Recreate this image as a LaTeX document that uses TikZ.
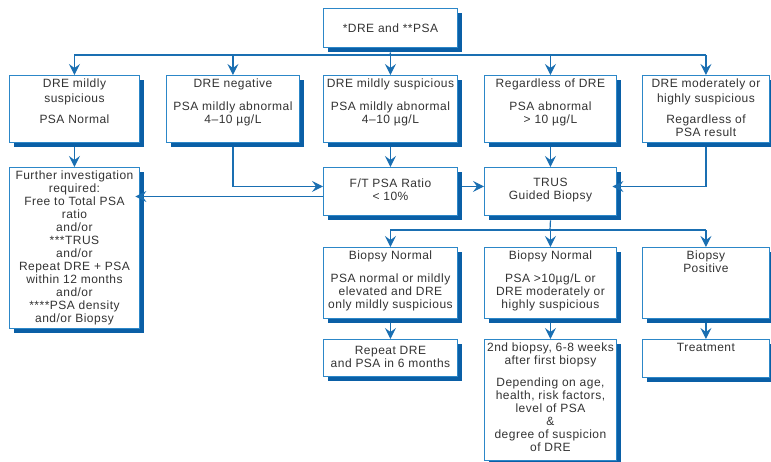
\documentclass[tikz,border=0pt]{standalone}
\usepackage{fontspec}
\setmainfont{Liberation Sans}[LetterSpace=4]
\usetikzlibrary{arrows.meta}

\definecolor{edgeblue}{HTML}{2C87C8}
\definecolor{darkshadow}{HTML}{0A5FA6}
\definecolor{linkblue}{HTML}{1A6FB2}
\definecolor{inkgray}{HTML}{333333}

\tikzset{
  panel/.style={draw=edgeblue, line width=0.9pt, fill=white, inner sep=0pt,
    anchor=north west},
  backshade/.style={fill=darkshadow},
  boxtext/.style={text=inkgray, align=center, inner sep=0pt,
    font=\fontsize{12}{13}\selectfont},
  toptext/.style={boxtext, anchor=north},
  link/.style={draw=linkblue, line width=1.2pt},
  flow/.style={link, -{Stealth[length=11pt,width=11pt,inset=4pt]}},
}

% a box with its offset shadow: name, left, top, width, height
\newcommand\panelbox[5]{%
  \fill[backshade] (#2+4.5,#3+4.5) rectangle (#2+#4+4.5,#3+#5+4.5);
  \node[panel, minimum width=#4pt, minimum height=#5pt] (#1) at (#2,#3) {};}

\begin{document}
\begin{tikzpicture}[x=1pt,y=-1pt]
\useasboundingbox[fill=white] (0,0) rectangle (771,461);

% screening test
\panelbox{top}{323}{8}{134}{39}
\node[boxtext] (topT) at (top.center) {*DRE and **PSA};

% first row: findings
\panelbox{b1}{9}{75}{130}{67}
\node[toptext] (b1T) at ([yshift=-4pt]b1.north) {DRE mildly\\[1.5pt]suspicious\\[8pt]PSA Normal};
\panelbox{b2}{166}{75}{133}{67}
\node[toptext] (b2T) at ([yshift=-4pt]b2.north) {DRE negative\\[10pt]PSA mildly abnormal\\4–10 µg/L};
\panelbox{b3}{323}{75}{134}{67}
\node[toptext] (b3T) at ([yshift=-4pt]b3.north) {DRE mildly suspicious\\[10pt]PSA mildly abnormal\\4–10 µg/L};
\panelbox{b4}{484}{75}{132}{67}
\node[toptext] (b4T) at ([yshift=-4pt]b4.north) {Regardless of DRE\\[10pt]PSA abnormal\\> 10 µg/L};
\panelbox{b5}{642}{75}{127}{67}
\node[toptext] (b5T) at ([yshift=-4pt]b5.north) {DRE moderately or\\[1.5pt]highly suspicious\\[8pt]Regardless of\\PSA result};

% second row
\panelbox{fur}{9}{167}{130}{161}
\node[toptext] (furT) at ([yshift=-4pt]fur.north) {Further investigation\\required:\\Free to Total PSA\\ratio\\and/or\\***TRUS\\and/or\\Repeat DRE + PSA\\within 12 months\\and/or\\****PSA density\\and/or Biopsy};
\panelbox{ft}{323}{167}{134}{48}
\node[boxtext] (ftT) at ([yshift=1.5pt]ft.center) {F/T PSA Ratio\\< 10\%};
\panelbox{trus}{484}{167}{132}{48}
\node[boxtext] (trusT) at ([yshift=1.5pt]trus.center) {TRUS\\Guided Biopsy};

% third row: biopsy outcomes
\panelbox{n1}{323}{247}{134}{71}
\node[toptext] (n1T) at ([yshift=-4pt]n1.north) {Biopsy Normal\\[10pt]PSA normal or mildly\\elevated and DRE\\only mildly suspicious};
\panelbox{n2}{484}{247}{132}{71}
\node[toptext] (n2T) at ([yshift=-4pt]n2.north) {Biopsy Normal\\[10pt]PSA >10µg/L or\\DRE moderately or\\highly suspicious};
\panelbox{pos}{642}{247}{127}{71}
\node[toptext] (posT) at ([yshift=-4pt]pos.north) {Biopsy\\Positive};

% fourth row: follow-up
\panelbox{rep}{323}{339}{134}{37}
\node[boxtext] (repT) at ([yshift=1.5pt]rep.center) {Repeat DRE\\and PSA in 6 months};
\panelbox{sec}{484}{339}{132}{121}
\node[toptext] (secT) at ([yshift=-4pt]sec.north) {2nd biopsy, 6-8 weeks\\after first biopsy\\[9pt]Depending on age,\\health, risk factors,\\level of PSA\\\&\\degree of suspicion\\of DRE};
\panelbox{treat}{642}{339}{127}{38}
\node[toptext] (treatT) at ([yshift=-4pt]treat.north) {Treatment};

% distribution from the screening test
\coordinate (busA) at (390,55);
\draw[link] ([yshift=-4.5pt]top.south) -- (busA);
\draw[link] (busA -| b1.north) -- (busA -| b5.north);
\foreach \n in {b1,b2,b3,b4,b5}
  \draw[flow] (busA -| \n.north) -- (\n.north);

% second row connections
\draw[flow] ([yshift=-4.5pt]b1.south) -- (fur.north);
\draw[flow] ([yshift=-4.5pt]b2.south) |- ([yshift=5pt]ft.west);
\draw[flow] ([yshift=-4.5pt]b3.south) -- (ft.north);
\draw[flow, shorten >=-4.5pt] ([yshift=-5pt]ft.west) -- ([yshift=-5pt]ft.west -| fur.east);
\draw[flow] ([yshift=5pt,xshift=4.5pt]ft.east) -- ([yshift=5pt]trus.west);
\draw[flow] ([yshift=-4.5pt]b4.south) -- (trus.north);
\draw[flow, shorten >=-4.5pt] ([yshift=-4.5pt]b5.south) |- ([yshift=5pt]trus.east);

% biopsy results
\coordinate (busB) at (550,230);
\draw[link] ([yshift=-4.5pt]trus.south) -- (busB);
\draw[link] (busB -| n1.north) -- (busB -| pos.north);
\foreach \n in {n1,n2,pos}
  \draw[flow] (busB -| \n.north) -- (\n.north);

% follow-up
\draw[flow] ([yshift=-4.5pt]n1.south) -- (rep.north);
\draw[flow] ([yshift=-4.5pt]n2.south) -- (sec.north);
\draw[flow] ([yshift=-4.5pt]pos.south) -- (treat.north);
\end{tikzpicture}
\end{document}
